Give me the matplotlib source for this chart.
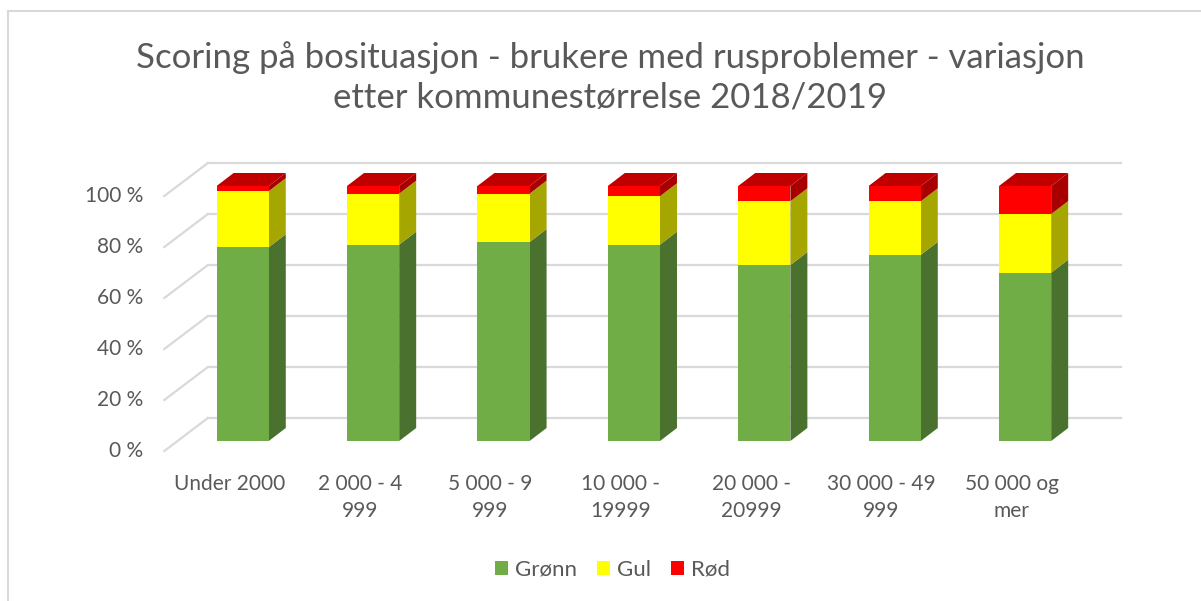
"""Scoring på bosituasjon, brukere med rusproblemer, etter kommunestørrelse 2018/2019.
Excel-style 3D stacked column chart, drawn with flat polygons on a 2D axes.
Writes out.png.
"""
import matplotlib
matplotlib.use("Agg")
import matplotlib.pyplot as plt
from matplotlib.patches import Polygon, Rectangle, Patch
from matplotlib.lines import Line2D

categories = ["Under 2000", "2 000 - 4\n999", "5 000 - 9\n999", "10 000 -\n19999",
              "20 000 -\n20999", "30 000 - 49\n999", "50 000 og\nmer"]
gronn = [76, 77, 78, 77, 69, 73, 66]
gul = [22, 20, 19, 19, 25, 21, 23]
rod = [2, 3, 3, 4, 6, 6, 11]
yticks = [0, 20, 40, 60, 80, 100]
series_names = ["Grønn", "Gul", "Rød"]

FRONT = ["#70AD47", "#FFFF00", "#FF0000"]
SIDE = ["#4A712E", "#A6A600", "#A80000"]
TOP = ["#5A8C39", "#CCCC00", "#C00000"]
GRID = "#D9D9D9"
TXT = "#595959"
FONT = "Lato"

W, H = 1201, 601
# pixel anchors of the bar front plane: category 0 centre and 0 %
X0, Y0, PX_CAT, PX_PCT = 242.7, 441.0, 130.4, 2.55
BW = 0.4                              # bar width (categories)
BAR_D = (17 / PX_CAT, 13 / PX_PCT)    # bar depth offset
BACK = (30.4 / PX_CAT, 23 / PX_PCT)   # back wall offset
FRNT = (-13.2 / PX_CAT, -10 / PX_PCT) # front floor edge offset

fig = plt.figure(figsize=(W / 100, H / 100), dpi=100)
L, R, T, B = 150, 1130, 150, 460
ax = fig.add_axes([L / W, 1 - B / H, (R - L) / W, (B - T) / H])
ax.set_xlim((L - X0) / PX_CAT, (R - X0) / PX_CAT)
ax.set_ylim((Y0 - B) / PX_PCT, (Y0 - T) / PX_PCT)
ax.axis("off")

n = len(categories)
for v in yticks:
    ax.plot([-0.5 + BACK[0], n - 0.5 + BACK[0]], [v + BACK[1]] * 2, color=GRID, lw=1.6, zorder=1)
    ax.plot([-0.5 + FRNT[0], -0.5 + BACK[0]], [v + FRNT[1], v + BACK[1]], color=GRID, lw=1.6, zorder=1)
    ax.text(-0.5 + FRNT[0] - 0.16, v + FRNT[1], f"{v} %", ha="right", va="center",
            fontsize=15, color=TXT, family=FONT)

dx, dy = BAR_D
for i in range(n):
    base = 0
    segs = [gronn[i], gul[i], rod[i]]
    for k, h in enumerate(segs):
        top = base + h
        xl, xr = i - BW / 2, i + BW / 2
        ax.add_patch(Polygon([(xr, base), (xr + dx, base + dy), (xr + dx, top + dy), (xr, top)],
                             closed=True, fc=SIDE[k], ec="none", zorder=3))
        ax.add_patch(Rectangle((xl, base), BW, h, fc=FRONT[k], ec="none", zorder=4))
        if k == len(segs) - 1:
            ax.add_patch(Polygon([(xl, top), (xr, top), (xr + dx, top + dy), (xl + dx, top + dy)],
                                 closed=True, fc=TOP[k], ec="none", zorder=4))
        base = top
    ax.text(i + FRNT[0], -13.0, categories[i], ha="center", va="top", fontsize=15,
            color=TXT, family=FONT, linespacing=1.45)

fig.text(0.508, 1 - 77 / H, "Scoring på bosituasjon - brukere med rusproblemer - variasjon\n"
         "etter kommunestørrelse 2018/2019", ha="center", va="center", fontsize=25,
         color=TXT, family=FONT, linespacing=1.3)

handles = [Patch(fc=c, ec="none") for c in FRONT]
fig.legend(handles, series_names, loc="center", bbox_to_anchor=(0.51, 1 - 570 / H), ncol=3,
           frameon=False, prop={"family": FONT, "size": 16}, labelcolor=TXT,
           handlelength=0.6, handleheight=0.6, handletextpad=0.3, columnspacing=0.9)

# chart border (only left and top edges fall inside the picture)
fig.add_artist(Line2D([8 / W, 8 / W], [0, 1 - 11 / H], color=GRID, lw=1.5))
fig.add_artist(Line2D([8 / W, 1], [1 - 11 / H, 1 - 11 / H], color=GRID, lw=1.5))

fig.savefig("out.png", dpi=100, facecolor="white")
